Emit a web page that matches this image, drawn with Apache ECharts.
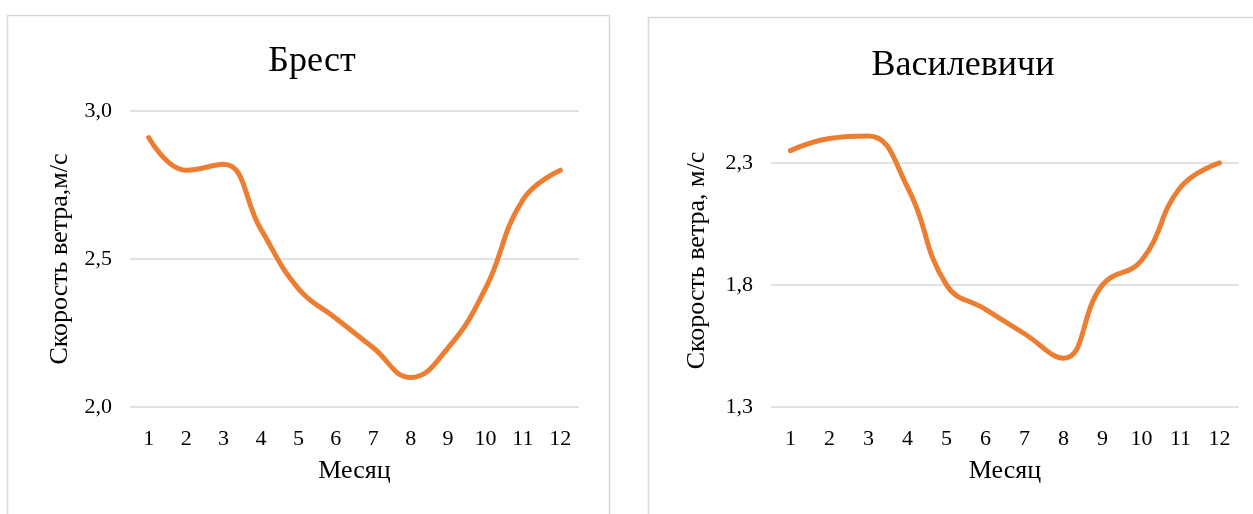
<!DOCTYPE html>
<html>
<head>
<meta charset="utf-8">
<script src="https://cdn.jsdelivr.net/npm/echarts@6/dist/echarts.min.js"></script>
<style>
html,body{margin:0;padding:0;background:#fff;}
#c{width:1253px;height:514px;}
</style>
</head>
<body>
<div id="c"></div>
<script>
const months = ['1','2','3','4','5','6','7','8','9','10','11','12'];
const brestValues = [2.91, 2.8, 2.82, 2.6, 2.4, 2.3, 2.2, 2.1, 2.2, 2.4, 2.7, 2.8];
const vasilValues = [2.35, 2.4, 2.41, 2.2, 1.8, 1.7, 1.6, 1.5, 1.8, 1.9, 2.2, 2.3];
const titles = ['Брест', 'Василевичи'];
const yNames = ['Скорость ветра,м/с', 'Скорость ветра, м/с'];
const xName = 'Месяц';
const brestAxis = {min: 2.0, max: 3.0, interval: 0.5};
const vasilAxis = {min: 1.3, max: 2.5, interval: 0.5};

const FONT = '"Liberation Serif", "Times New Roman", serif';
const GRID_COLOR = '#d9d9d9';
const LINE_COLOR = '#ED7D31';
const fmt = v => v.toFixed(1).replace('.', ',');

function xAxisCfg(gridIndex) {
  return {
    type: 'category', gridIndex, data: months, boundaryGap: true,
    axisLine: {show: false}, axisTick: {show: false},
    axisLabel: {color: '#000', fontFamily: FONT, fontSize: 22, margin: 21},
    name: xName, nameLocation: 'middle', nameGap: 51,
    nameTextStyle: {color: '#000', fontFamily: FONT, fontSize: 26}
  };
}
function yAxisCfg(gridIndex, ax, name, gap) {
  const showTop = ax.max === 3.0;
  return {
    type: 'value', gridIndex, min: ax.min, max: ax.max, interval: ax.interval,
    axisLine: {show: false}, axisTick: {show: false},
    axisLabel: {color: '#000', fontFamily: FONT, fontSize: 22, margin: 18, formatter: fmt, showMaxLabel: showTop},
    splitLine: {show: true, showMaxLine: showTop, lineStyle: {color: GRID_COLOR, width: 1.5}},
    name, nameLocation: 'middle', nameGap: gap, nameRotate: 90,
    nameTextStyle: {color: '#000', fontFamily: FONT, fontSize: 26}
  };
}

const chart = echarts.init(document.getElementById('c'), null, {renderer: 'canvas'});
chart.setOption({
  animation: false,
  backgroundColor: '#fff',
  graphic: [
    {type: 'rect', shape: {x: 7.5, y: 15.5, width: 602, height: 540}, style: {fill: 'none', stroke: GRID_COLOR, lineWidth: 1.5}, z: 0},
    {type: 'rect', shape: {x: 648.5, y: 17.5, width: 640, height: 540}, style: {fill: 'none', stroke: GRID_COLOR, lineWidth: 1.5}, z: 0}
  ],
  title: [
    {text: titles[0], left: 307, top: 39, textAlign: 'center', textStyle: {fontFamily: FONT, fontSize: 36, fontWeight: 'normal', color: '#000'}},
    {text: titles[1], left: 958, top: 43, textAlign: 'center', textStyle: {fontFamily: FONT, fontSize: 36, fontWeight: 'normal', color: '#000'}}
  ],
  grid: [
    {left: 130, right: 1253 - 579, top: 111, bottom: 514 - 407, containLabel: false},
    {left: 771, right: 1253 - 1239, top: 114, bottom: 514 - 407, containLabel: false}
  ],
  xAxis: [xAxisCfg(0), xAxisCfg(1)],
  yAxis: [yAxisCfg(0, brestAxis, yNames[0], 57), yAxisCfg(1, vasilAxis, yNames[1], 61)],
  series: [
    {type: 'line', xAxisIndex: 0, yAxisIndex: 0, data: brestValues, smooth: 0.45, showSymbol: false,
     lineStyle: {color: LINE_COLOR, width: 5, cap: 'round', join: 'round'}},
    {type: 'line', xAxisIndex: 1, yAxisIndex: 1, data: vasilValues, smooth: 0.45, showSymbol: false,
     lineStyle: {color: LINE_COLOR, width: 5, cap: 'round', join: 'round'}}
  ]
});
</script>
</body>
</html>
